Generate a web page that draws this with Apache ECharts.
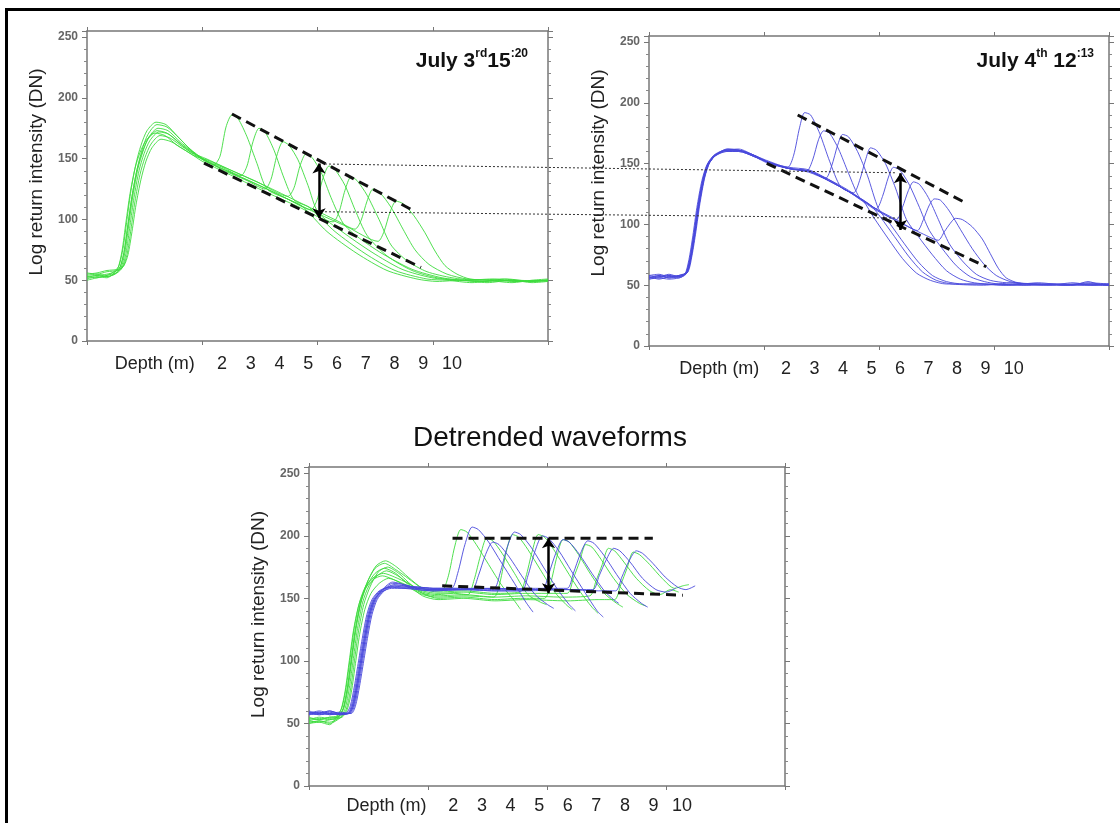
<!DOCTYPE html>
<html>
<head>
<meta charset="utf-8">
<title>Waveforms</title>
<script src="https://cdn.jsdelivr.net/npm/echarts@6/dist/echarts.min.js"></script>
<style>
    html, body { margin: 0; padding: 0; background: #fff; }
    #main { width: 1120px; height: 823px; }
</style>
</head>
<body>
<div id="main"></div>
<script>
// x is the sample index along the waveform (0..461), y is the return intensity (DN)
var X_MAX = 461;
var Y_MAX = 255;
var depthTicks = [2, 3, 4, 5, 6, 7, 8, 9, 10];
var depthNameAt = -0.34;   // where "Depth (m)" sits on the depth scale

// July 3rd 15:20 (green)
var greenJuly3 = [
    [[0,53],[10,54],[20,55],[28,57],[33,61],[37,73],[41,96],[45,119],[50,141],[55,157],[61,170],[70,178],[80,176],[92,167],[104,157],[116,149],[127,145],[133,152],[139,176],[145,186],[151,183],[160,168],[170,146],[180,125],[200,117],[215,111],[240,90],[270,72],[300,58],[330,51],[350,49],[375,50],[400,48],[425,50],[445,48],[461,49]],
    [[0,54],[10,55],[20,53],[30,56],[35,60],[39,72],[43,95],[47,118],[52,140],[57,154],[63,165],[72,172],[82,170],[94,162],[106,155],[118,149],[135,143],[154,136],[160,144],[166,164],[172,175],[178,172],[187,157],[197,134],[207,116],[222,110],[248,90],[278,72],[308,58],[340,51],[360,50],[385,48],[410,50],[435,49],[461,50]],
    [[0,50],[10,52],[20,54],[27,57],[32,62],[36,76],[40,100],[44,124],[49,146],[54,161],[60,173],[69,180],[79,178],[91,168],[103,158],[116,150],[135,141],[160,132],[178,125],[184,133],[190,153],[196,164],[202,161],[211,149],[221,128],[231,106],[255,90],[285,73],[315,59],[345,52],[370,50],[395,49],[420,51],[445,49],[461,50]],
    [[0,56],[10,55],[20,57],[31,58],[36,61],[40,71],[44,92],[48,115],[53,137],[58,151],[64,162],[73,169],[83,167],[95,160],[107,154],[119,150],[140,142],[170,131],[201,119],[207,126],[213,144],[219,154],[225,151],[234,139],[244,118],[256,97],[270,86],[295,72],[325,59],[355,52],[380,50],[405,51],[430,49],[461,50]],
    [[0,53],[10,52],[20,54],[29,56],[34,60],[38,73],[42,97],[46,120],[51,142],[56,156],[62,168],[71,175],[81,173],[93,164],[105,156],[117,149],[140,140],[170,129],[200,117],[224,108],[230,116],[236,134],[242,144],[248,141],[258,128],[268,108],[280,87],[300,70],[325,58],[350,52],[375,50],[400,49],[425,50],[461,49]],
    [[0,51],[10,53],[20,52],[26,55],[31,60],[35,74],[39,98],[43,121],[48,142],[53,155],[59,165],[68,171],[78,169],[90,161],[102,155],[115,148],[140,138],[175,124],[210,111],[246,98],[252,106],[258,124],[264,135],[270,132],[280,120],[292,100],[304,79],[320,66],[340,57],[365,52],[390,50],[415,51],[440,49],[461,50]],
    [[0,55],[10,56],[20,58],[32,59],[37,62],[41,71],[45,90],[49,112],[54,133],[59,148],[65,159],[74,166],[84,164],[96,158],[108,152],[120,149],[145,140],[180,127],[220,111],[250,99],[268,92],[274,99],[280,115],[286,125],[293,122],[304,110],[316,92],[328,75],[342,63],[360,55],[380,51],[400,50],[425,48],[445,50],[461,51]],
    [[0,52],[10,54],[20,53],[28,55],[33,60],[37,73],[41,96],[45,119],[50,141],[55,155],[61,166],[70,173],[80,171],[92,163],[104,155],[116,149],[145,138],[185,123],[225,107],[260,94],[291,82],[297,90],[303,106],[309,115],[316,113],[327,103],[338,89],[348,74],[358,62],[370,55],[383,51],[405,50],[430,49],[461,50]]
];
var july3Upper = [[145, 186.7], [327, 107]];
var july3Lower = [[117, 146.4], [334, 60.5]];
var july3Arrow = [[232, 146], [232, 101]];

// July 4th 12:13 (blue)
var blueJuly4 = [
    [[0,58],[10,57],[20,59],[30,57],[37,60],[41,72],[45,92],[49,115],[54,137],[59,150],[66,157],[77,161],[90,162],[105,157],[120,152],[139,147],[145,157],[151,180],[156,192],[162,190],[171,175],[181,152],[192,131],[205,125],[215,119],[225,106],[240,88],[254,72],[268,60],[282,54],[298,51],[330,51],[360,50],[390,52],[420,50],[445,51],[461,50]],
    [[0,56],[10,58],[20,56],[30,58],[38,60],[42,72],[46,92],[50,115],[55,137],[60,150],[67,157],[78,162],[90,161],[105,156],[120,151],[140,146],[158,144],[164,153],[170,170],[175,177],[181,175],[190,162],[200,142],[211,122],[222,116],[232,106],[246,90],[260,74],[274,61],[288,54],[304,51],[335,50],[365,52],[395,50],[425,51],[461,51]],
    [[0,55],[10,56],[20,55],[30,56],[37,59],[41,70],[45,90],[49,113],[54,136],[59,149],[66,156],[77,160],[90,160],[105,156],[120,151],[140,146],[160,144],[177,138],[183,148],[189,165],[194,174],[200,172],[209,160],[219,140],[230,113],[242,100],[256,84],[270,69],[284,58],[298,53],[315,51],[345,51],[375,50],[405,51],[435,50],[461,50]],
    [[0,57],[10,56],[20,58],[30,57],[39,61],[43,74],[47,94],[51,117],[56,139],[61,151],[68,158],[79,162],[90,161],[105,157],[120,151],[140,147],[160,145],[180,137],[205,126],[211,136],[217,153],[222,163],[228,161],[237,150],[247,130],[258,104],[270,90],[284,75],[298,62],[312,55],[326,52],[355,50],[385,51],[415,50],[440,52],[461,51]],
    [[0,58],[10,59],[20,57],[30,58],[38,61],[42,73],[46,93],[50,116],[55,138],[60,150],[67,157],[78,160],[90,160],[105,156],[120,150],[140,146],[160,143],[180,136],[200,127],[215,120],[228,113],[234,123],[240,139],[245,147],[251,145],[260,134],[270,116],[281,95],[294,80],[308,66],[322,57],[336,53],[350,51],[380,50],[410,51],[440,50],[461,51]],
    [[0,55],[10,57],[20,58],[30,56],[36,59],[40,71],[44,91],[48,114],[53,136],[58,149],[65,157],[76,161],[90,161],[105,157],[120,151],[140,146],[160,144],[180,136],[200,127],[225,114],[248,104],[254,114],[260,128],[265,135],[271,133],[280,122],[290,104],[301,84],[314,70],[328,59],[342,54],[358,52],[385,51],[415,50],[440,51],[461,50]],
    [[0,57],[10,55],[20,57],[30,58],[38,60],[42,72],[46,92],[50,115],[55,137],[60,150],[67,157],[78,161],[90,161],[105,156],[120,151],[140,146],[160,144],[180,137],[200,128],[225,114],[250,103],[269,95],[275,104],[281,116],[286,121],[292,120],[301,111],[312,96],[324,80],[336,67],[348,58],[362,53],[378,51],[400,50],[425,52],[445,50],[461,50]],
    [[0,56],[10,58],[20,56],[30,57],[37,60],[41,72],[45,92],[49,115],[54,137],[59,150],[66,157],[77,161],[90,161],[105,157],[120,151],[140,146],[160,144],[180,136],[200,127],[225,113],[250,102],[275,92],[290,87],[296,94],[302,101],[307,105],[314,104],[324,98],[334,88],[342,76],[350,64],[358,56],[370,52],[400,51],[425,50],[440,53],[450,51],[461,50]]
];
var july4Upper = [[149, 190], [315, 118.7]];
var july4Lower = [[118, 150.2], [338, 65.2]];
var july4Arrow = [[252, 142], [252, 95.4]];

// detrended waveforms, both days
var greenDetrended = [
    [[0,52],[10,51],[20,53],[28,55],[33,62],[37,78],[41,102],[45,126],[50,147],[56,162],[64,174],[73,178],[84,173],[96,166],[110,158],[125,156],[129,156],[135,168],[141,191],[147,205],[153,203],[162,193],[174,177],[187,160],[199,148],[205,141]],
    [[0,54],[10,53],[20,55],[30,55],[35,62],[39,78],[43,102],[47,126],[52,147],[58,160],[66,168],[75,172],[86,168],[96,162],[110,155],[125,153],[140,154],[154,153],[160,165],[166,184],[172,198],[178,196],[187,186],[199,170],[212,153],[224,147],[230,145]],
    [[0,50],[10,51],[20,49],[26,54],[31,61],[35,76],[39,100],[43,124],[48,144],[54,157],[62,165],[71,168],[82,165],[96,159],[110,153],[125,151],[150,152],[179,151],[185,163],[191,187],[197,201],[203,199],[212,189],[224,173],[237,156],[249,145],[255,141]],
    [[0,53],[10,55],[20,54],[29,56],[34,63],[38,79],[42,104],[46,128],[51,149],[57,164],[65,176],[74,180],[85,175],[96,167],[110,158],[125,155],[150,156],[180,154],[204,155],[210,167],[216,187],[222,201],[228,199],[237,189],[249,173],[262,156],[274,143],[280,138]],
    [[0,51],[10,52],[20,50],[31,55],[36,61],[40,76],[44,100],[48,124],[53,145],[59,159],[67,171],[76,175],[87,170],[96,163],[110,154],[125,150],[150,151],[180,149],[205,150],[228,150],[234,162],[240,183],[246,197],[252,195],[261,185],[273,169],[286,154],[298,146],[304,143]],
    [[0,55],[10,53],[20,55],[27,56],[32,63],[36,79],[40,103],[44,127],[49,147],[55,160],[63,167],[72,170],[83,167],[96,162],[110,156],[125,154],[150,155],[180,153],[210,154],[250,154],[256,166],[262,179],[268,193],[274,191],[283,181],[295,166],[308,153],[320,146],[326,144]],
    [[0,52],[10,54],[20,53],[32,55],[37,61],[41,75],[45,98],[49,121],[54,141],[60,154],[68,162],[77,166],[88,163],[96,160],[110,154],[125,152],[150,153],[180,151],[210,152],[245,151],[272,152],[278,164],[284,177],[290,190],[296,188],[305,179],[317,166],[330,156],[340,153],[350,157],[358,155]],
    [[0,50],[10,52],[20,51],[28,54],[33,61],[37,77],[41,101],[45,125],[50,146],[56,160],[64,170],[73,174],[84,170],[96,161],[110,152],[125,149],[150,150],[180,148],[210,149],[250,148],[280,149],[296,149],[302,161],[308,174],[314,187],[320,185],[330,177],[342,166],[354,158],[362,160],[368,161]]
];
var blueDetrended = [
    [[0,58],[10,59],[20,57],[30,58],[38,58],[42,64],[46,80],[50,100],[54,120],[58,137],[63,149],[70,156],[80,160],[92,159],[105,159],[120,158],[138,158],[144,170],[151,193],[158,207],[164,205],[174,195],[186,179],[199,162],[210,147],[217,139]],
    [[0,60],[10,58],[20,59],[30,57],[39,58],[43,64],[47,80],[51,100],[55,120],[59,137],[64,149],[71,156],[81,162],[92,161],[105,158],[120,157],[140,157],[158,157],[164,168],[171,185],[178,195],[184,193],[194,183],[206,168],[219,153],[231,145],[237,142]],
    [[0,57],[10,58],[20,60],[30,58],[37,58],[41,64],[45,80],[49,100],[53,120],[57,137],[62,149],[69,156],[79,159],[92,159],[105,159],[120,158],[150,158],[179,158],[185,170],[192,191],[199,203],[205,201],[215,191],[227,175],[240,158],[252,145],[258,140]],
    [[0,59],[10,57],[20,58],[30,59],[40,58],[44,64],[48,80],[52,100],[56,120],[60,137],[65,149],[72,156],[82,161],[92,160],[105,157],[120,156],[150,157],[180,156],[206,156],[212,168],[219,188],[226,200],[232,198],[242,188],[254,172],[267,155],[279,140],[285,135]],
    [[0,58],[10,60],[20,58],[30,57],[38,58],[42,64],[46,80],[50,100],[54,120],[58,137],[63,149],[70,155],[80,158],[92,158],[105,158],[120,157],[150,157],[180,158],[205,157],[226,157],[232,169],[239,186],[246,197],[252,195],[262,185],[274,170],[286,156],[295,149],[300,146]],
    [[0,57],[10,59],[20,57],[30,58],[41,58],[45,64],[49,80],[53,100],[57,120],[61,137],[66,149],[73,156],[83,160],[92,160],[105,159],[120,158],[150,158],[180,157],[210,158],[250,158],[256,170],[263,186],[270,196],[276,194],[286,184],[298,169],[311,154],[322,146],[328,143]],
    [[0,59],[10,58],[20,60],[30,58],[39,58],[43,64],[47,80],[51,100],[55,120],[59,137],[64,149],[71,157],[81,163],[92,161],[105,158],[120,157],[150,157],[180,158],[210,157],[245,157],[275,157],[281,168],[288,181],[295,190],[301,188],[311,179],[323,166],[336,157],[346,155],[355,158]],
    [[0,58],[10,57],[20,58],[30,57],[36,58],[40,64],[44,80],[48,100],[52,120],[56,137],[61,149],[68,156],[78,159],[92,158],[105,157],[120,156],[150,157],[180,156],[210,156],[250,157],[280,156],[297,156],[303,167],[310,180],[317,188],[323,186],[333,178],[345,167],[357,159],[365,157],[374,160]]
];
var detUpper = [[139, 198], [333, 198]];
var detLower = [[129, 160], [362, 152.5]];
var detArrow = [[232, 198], [232, 154]];

// dotted links from July 3rd panel to July 4th panel
var linkUpper = [[238, 145.6], [247, 142.5]];
var linkLower = [[238, 106.3], [249, 105.3]];

var FONT = '"Liberation Sans", Arial, sans-serif';
var GREEN = '#3ddc3d';
var BLUE = '#4848dc';

var panels = [
    { left: 87, top: 31, width: 461, height: 310, depth: [-2.70, 13.34], depthMargin: 14, namePad: 28 },
    { left: 649, top: 36, width: 460, height: 310, depth: [-2.81, 13.34], depthMargin: 14, namePad: 36 },
    { left: 309, top: 467, width: 476, height: 319, depth: [-3.05, 13.6], depthMargin: 11, namePad: 24 }
];

var grid = [], xAxis = [], yAxis = [], series = [];

panels.forEach(function (p, i) {
    grid.push({ left: p.left, top: p.top, width: p.width, height: p.height, containLabel: false });
    var frameLine = { show: true, onZero: false, lineStyle: { color: '#777', width: 1.5 } };
    var frameTick = { show: true, length: 4, lineStyle: { color: '#777', width: 1 } };
    ['bottom', 'top'].forEach(function (pos) {
        xAxis.push({
            gridIndex: i, type: 'value', position: pos, min: 0, max: X_MAX, interval: X_MAX / 4,
            axisLine: frameLine, axisTick: frameTick, axisLabel: { show: false }, splitLine: { show: false }
        });
    });
    // depth scale written under the frame
    xAxis.push({
        gridIndex: i, type: 'value', position: 'bottom', min: p.depth[0], max: p.depth[1],
        axisLine: { show: false, onZero: false }, axisTick: { show: false }, splitLine: { show: false },
        axisLabel: {
            customValues: [depthNameAt].concat(depthTicks),
            formatter: function (v) { return v < 0 ? 'Depth (m)' : String(v); },
            fontSize: 18, color: '#222', fontFamily: FONT, margin: p.depthMargin
        }
    });
    ['left', 'right'].forEach(function (pos) {
        yAxis.push({
            gridIndex: i, type: 'value', position: pos, min: 0, max: Y_MAX, interval: 50,
            axisLine: frameLine,
            axisTick: { show: true, length: 5, lineStyle: { color: '#777' } },
            minorTick: { show: true, splitNumber: 5, length: 3, lineStyle: { color: '#888' } },
            splitLine: { show: false }, minorSplitLine: { show: false },
            axisLabel: pos === 'left'
                ? { show: true, showMaxLabel: false, fontSize: 12, fontWeight: 'bold', color: '#666', fontFamily: FONT, margin: 9 }
                : { show: false },
            name: pos === 'left' ? 'Log return intensity (DN)' : '',
            nameLocation: 'middle', nameGap: 41, nameRotate: 90,
            nameTextStyle: { fontSize: 19, color: '#222', fontFamily: FONT, padding: [0, 0, 0, p.namePad] }
        });
    });
});

function addCurves(list, color, i) {
    list.forEach(function (d) {
        series.push({
            type: 'line', xAxisIndex: 3 * i, yAxisIndex: 2 * i, data: d,
            showSymbol: false, smooth: 0.25, silent: true, z: 2,
            lineStyle: { width: 1, color: color, opacity: 0.9 }
        });
    });
}

function addGuides(upper, lower, arrow, i) {
    [upper, lower].forEach(function (d) {
        series.push({
            type: 'line', xAxisIndex: 3 * i, yAxisIndex: 2 * i, data: d,
            showSymbol: false, silent: true, z: 5,
            lineStyle: { width: 3, color: '#111', type: [10, 6] }
        });
    });
    series.push({
        type: 'lines', coordinateSystem: 'cartesian2d', xAxisIndex: 3 * i, yAxisIndex: 2 * i,
        data: [{ coords: arrow }], symbol: ['arrow', 'arrow'], symbolSize: 10, silent: true, z: 6,
        lineStyle: { width: 2.5, color: '#000', opacity: 1 }
    });
}

addCurves(greenJuly3, GREEN, 0);
addGuides(july3Upper, july3Lower, july3Arrow, 0);
addCurves(blueJuly4, BLUE, 1);
addGuides(july4Upper, july4Lower, july4Arrow, 1);
addCurves(greenDetrended, GREEN, 2);
addCurves(blueDetrended, BLUE, 2);
addGuides(detUpper, detLower, detArrow, 2);

var richTitle = {
    n: { fontSize: 21, fontWeight: 'bold', color: '#111', fontFamily: FONT, lineHeight: 26 },
    s: { fontSize: 12, fontWeight: 'bold', color: '#111', fontFamily: FONT, lineHeight: 13, verticalAlign: 'top' }
};

var option = {
    animation: false,
    backgroundColor: '#fff',
    textStyle: { fontFamily: FONT },
    title: [
        { text: '{n|July 3}{s|rd}{n|15}{s|:20}', right: 587, top: 43, textStyle: { rich: richTitle } },
        { text: '{n|July 4}{s|th}{n| 12}{s|:13}', right: 21, top: 43, textStyle: { rich: richTitle } },
        { text: 'Detrended waveforms', left: 408, top: 419, textStyle: { fontSize: 28, fontWeight: 'normal', color: '#111', fontFamily: FONT } }
    ],
    grid: grid,
    xAxis: xAxis,
    yAxis: yAxis,
    series: series
};

var chart = echarts.init(document.getElementById('main'));
chart.setOption(option);

// dotted links cross from one panel into the other, so place them after layout
function linkLine(pts) {
    var a = chart.convertToPixel({ xAxisIndex: 0, yAxisIndex: 0 }, pts[0]);
    var b = chart.convertToPixel({ xAxisIndex: 3, yAxisIndex: 2 }, pts[1]);
    return {
        type: 'line', z: 10, silent: true,
        shape: { x1: a[0], y1: a[1], x2: b[0], y2: b[1] },
        style: { stroke: '#333', lineWidth: 1, lineDash: [2, 2] }
    };
}

chart.setOption({
    graphic: [
        { type: 'rect', z: 20, silent: true, shape: { x: 6.5, y: 9.5, width: 1200, height: 900 },
          style: { fill: 'none', stroke: '#000', lineWidth: 3 } },
        linkLine(linkUpper),
        linkLine(linkLower)
    ]
});
</script>
</body>
</html>
